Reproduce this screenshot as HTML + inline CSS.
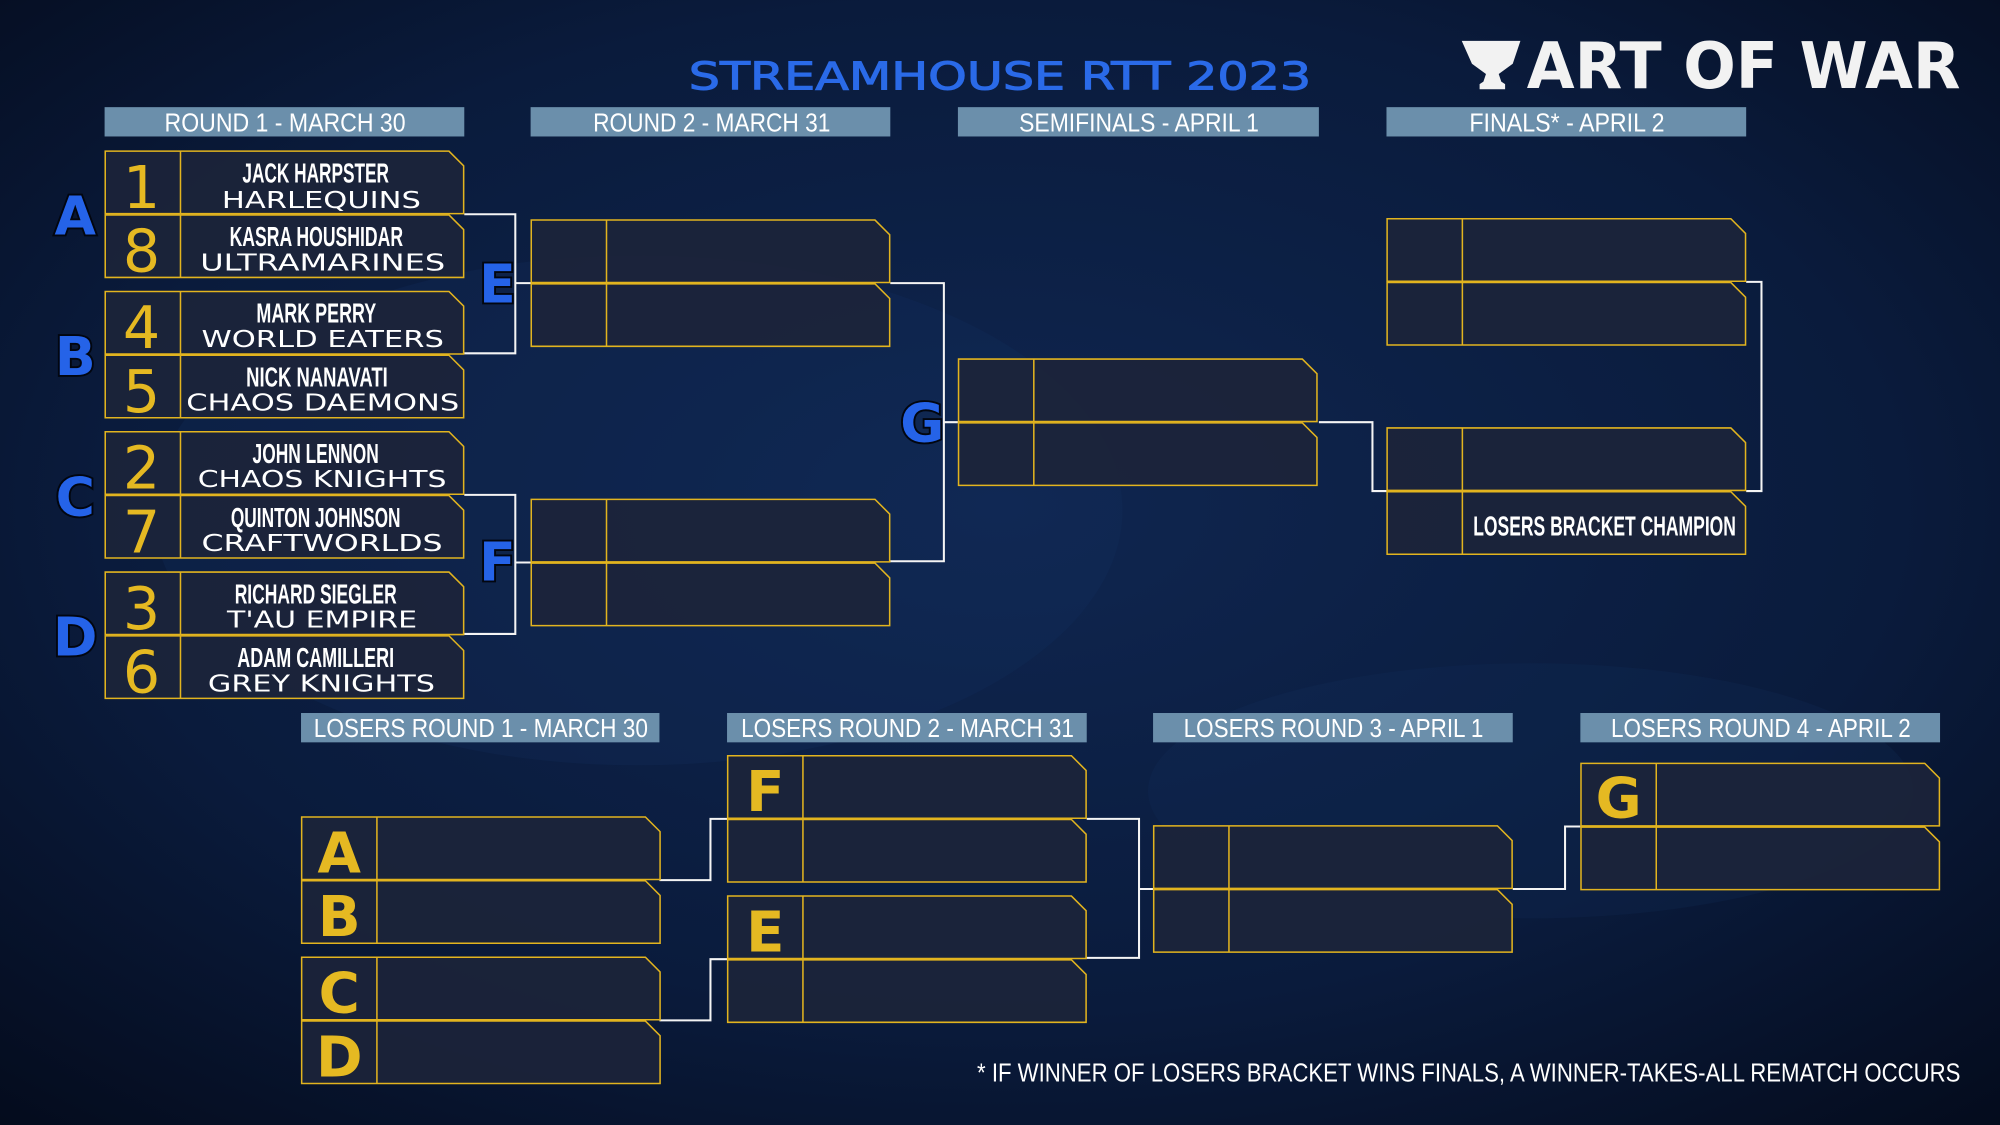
<!DOCTYPE html>
<html><head><meta charset="utf-8"><style>
html,body{margin:0;padding:0;width:2000px;height:1125px;overflow:hidden;background:#06122a}
svg{display:block}
.h{font-family:"Liberation Sans Narrow","Liberation Sans",sans-serif;fill:#fff;font-size:20px}
.nm{font-family:"Liberation Sans Narrow","Liberation Sans",sans-serif;font-weight:bold;fill:#fff;font-size:22px}
.fc{font-family:"DejaVu Sans","Liberation Sans",sans-serif;fill:#fff;font-size:18px}
.num{font-family:"DejaVu Sans","Liberation Sans",sans-serif;fill:#e5b922;font-size:46px}
.bl{font-family:"DejaVu Sans","Liberation Sans",sans-serif;font-weight:bold;fill:#2563e8;stroke:#02060f;stroke-width:3;paint-order:stroke;font-size:42px}
.yl{font-family:"DejaVu Sans","Liberation Sans",sans-serif;font-weight:bold;fill:#e5b922;font-size:44px}
</style></head><body>
<svg width="2000" height="1125" viewBox="0 0 1568 882" xmlns="http://www.w3.org/2000/svg">
<defs>
<radialGradient id="bg1" cx="0.5" cy="0.45" r="0.75"><stop offset="0" stop-color="#0f2650"/><stop offset="0.6" stop-color="#0a1b3c"/><stop offset="1" stop-color="#040b1c"/></radialGradient>
<symbol id="slot" viewBox="0 0 282 50" width="282" height="50" overflow="visible">
<path d="M0.5,0.5 H270 L281.5,12 V49.5 H0.5 Z" fill="#1c2439" fill-opacity="0.92" stroke="#e2b41f" stroke-width="1.2"/>
<line x1="59.5" y1="0.5" x2="59.5" y2="49.5" stroke="#e2b41f" stroke-width="1.2"/>
</symbol>
</defs>
<rect width="1568" height="882" fill="url(#bg1)"/>
<ellipse cx="500" cy="400" rx="380" ry="200" fill="#133060" opacity="0.25"/>
<ellipse cx="1200" cy="620" rx="300" ry="100" fill="#133060" opacity="0.2"/>

<!-- title & logo -->
<text x="540" y="70" textLength="488" lengthAdjust="spacingAndGlyphs" font-family="DejaVu Sans, sans-serif" font-size="30" fill="#2a6ae8" stroke="#2a6ae8" stroke-width="0.8">STREAMHOUSE RTT 2023</text>
<path d="M1146,32 H1192 L1186,50 L1175,58 L1177,64 L1180,66 V70 H1160 V66 L1163,64 L1165,58 L1154,50 Z" fill="#f2f2f2"/>
<text x="1197" y="69" textLength="340" lengthAdjust="spacingAndGlyphs" font-family="DejaVu Sans, sans-serif" font-weight="bold" font-size="50" fill="#f2f2f2">ART OF WAR</text>

<!-- headers -->
<g fill="#6b8fab">
<rect x="82" y="84" width="282" height="23"/><rect x="416" y="84" width="282" height="23"/>
<rect x="751" y="84" width="283" height="23"/><rect x="1087" y="84" width="282" height="23"/>
<rect x="236" y="559" width="281" height="23"/><rect x="570" y="559" width="282" height="23"/>
<rect x="904" y="559" width="282" height="23"/><rect x="1239" y="559" width="282" height="23"/>
</g>
<g class="h">
<text x="129" y="103" textLength="189" lengthAdjust="spacingAndGlyphs">ROUND 1 - MARCH 30</text>
<text x="465" y="103" textLength="186" lengthAdjust="spacingAndGlyphs">ROUND 2 - MARCH 31</text>
<text x="799" y="103" textLength="188" lengthAdjust="spacingAndGlyphs">SEMIFINALS - APRIL 1</text>
<text x="1152" y="103" textLength="153" lengthAdjust="spacingAndGlyphs">FINALS* - APRIL 2</text>
<text x="246" y="578" textLength="262" lengthAdjust="spacingAndGlyphs">LOSERS ROUND 1 - MARCH 30</text>
<text x="581" y="578" textLength="261" lengthAdjust="spacingAndGlyphs">LOSERS ROUND 2 - MARCH 31</text>
<text x="928" y="578" textLength="235" lengthAdjust="spacingAndGlyphs">LOSERS ROUND 3 - APRIL 1</text>
<text x="1263" y="578" textLength="235" lengthAdjust="spacingAndGlyphs">LOSERS ROUND 4 - APRIL 2</text>
</g>

<!-- connectors -->
<g fill="none" stroke="#f4f4f4" stroke-width="1.6">
<path d="M364,168 H404 V277 H364 M404,222 H416"/>
<path d="M364,388 H404 V497 H364 M404,441 H416"/>
<path d="M698,222 H740 V440 H698 M740,331 H751"/>
<path d="M1034,331 H1076 V385 H1087"/>
<path d="M1369,221 H1381 V385 H1369"/>
<path d="M517,690 H557 V642 H570"/>
<path d="M517,800 H557 V752 H570"/>
<path d="M852,642 H893 V751 H852 M893,697 H904"/>
<path d="M1186,697 H1227 V648 H1239"/>
</g>

<!-- slots -->
<use href="#slot" x="82" y="118"/><use href="#slot" x="82" y="168"/>
<use href="#slot" x="82" y="228"/><use href="#slot" x="82" y="278"/>
<use href="#slot" x="82" y="338"/><use href="#slot" x="82" y="388"/>
<use href="#slot" x="82" y="448"/><use href="#slot" x="82" y="498"/>
<use href="#slot" x="416" y="172"/><use href="#slot" x="416" y="222"/>
<use href="#slot" x="416" y="391"/><use href="#slot" x="416" y="441"/>
<use href="#slot" x="751" y="281"/><use href="#slot" x="751" y="331"/>
<use href="#slot" x="1087" y="171"/><use href="#slot" x="1087" y="221"/>
<use href="#slot" x="1087" y="335"/><use href="#slot" x="1087" y="385"/>
<use href="#slot" x="236" y="640"/><use href="#slot" x="236" y="690"/>
<use href="#slot" x="236" y="750"/><use href="#slot" x="236" y="800"/>
<use href="#slot" x="570" y="592"/><use href="#slot" x="570" y="642"/>
<use href="#slot" x="570" y="702"/><use href="#slot" x="570" y="752"/>
<use href="#slot" x="904" y="647"/><use href="#slot" x="904" y="697"/>
<use href="#slot" x="1239" y="598"/><use href="#slot" x="1239" y="648"/>

<!-- round 1 text -->
<g class="num" text-anchor="middle">
<text x="111" y="163">1</text><text x="111" y="213">8</text>
<text x="111" y="273">4</text><text x="111" y="323">5</text>
<text x="111" y="383">2</text><text x="111" y="433">7</text>
<text x="111" y="493">3</text><text x="111" y="543">6</text>
</g>
<g class="nm">
<text x="190" y="143" textLength="115" lengthAdjust="spacingAndGlyphs">JACK HARPSTER</text>
<text x="180" y="193" textLength="136" lengthAdjust="spacingAndGlyphs">KASRA HOUSHIDAR</text>
<text x="201" y="253" textLength="94" lengthAdjust="spacingAndGlyphs">MARK PERRY</text>
<text x="193" y="303" textLength="111" lengthAdjust="spacingAndGlyphs">NICK NANAVATI</text>
<text x="198" y="363" textLength="99" lengthAdjust="spacingAndGlyphs">JOHN LENNON</text>
<text x="181" y="413" textLength="133" lengthAdjust="spacingAndGlyphs">QUINTON JOHNSON</text>
<text x="184" y="473" textLength="127" lengthAdjust="spacingAndGlyphs">RICHARD SIEGLER</text>
<text x="186" y="523" textLength="123" lengthAdjust="spacingAndGlyphs">ADAM CAMILLERI</text>
</g>
<g class="fc">
<text x="174" y="163" textLength="156" lengthAdjust="spacingAndGlyphs">HARLEQUINS</text>
<text x="157" y="212" textLength="192" lengthAdjust="spacingAndGlyphs">ULTRAMARINES</text>
<text x="158" y="272" textLength="190" lengthAdjust="spacingAndGlyphs">WORLD EATERS</text>
<text x="146" y="322" textLength="214" lengthAdjust="spacingAndGlyphs">CHAOS DAEMONS</text>
<text x="155" y="382" textLength="195" lengthAdjust="spacingAndGlyphs">CHAOS KNIGHTS</text>
<text x="158" y="432" textLength="189" lengthAdjust="spacingAndGlyphs">CRAFTWORLDS</text>
<text x="178" y="492" textLength="149" lengthAdjust="spacingAndGlyphs">T'AU EMPIRE</text>
<text x="163" y="542" textLength="178" lengthAdjust="spacingAndGlyphs">GREY KNIGHTS</text>
</g>

<!-- blue labels -->
<g class="bl" text-anchor="middle">
<text x="59" y="184">A</text><text x="59" y="294">B</text>
<text x="59" y="404">C</text><text x="59" y="514">D</text>
<text x="390" y="237">E</text><text x="390" y="455">F</text>
<text x="723" y="346">G</text>
</g>

<!-- yellow losers letters -->
<g class="yl" text-anchor="middle">
<text x="266" y="684">A</text><text x="266" y="734">B</text>
<text x="266" y="794">C</text><text x="266" y="844">D</text>
<text x="600" y="636">F</text><text x="600" y="746">E</text>
<text x="1269" y="641">G</text>
</g>

<text x="1155" y="420" textLength="206" lengthAdjust="spacingAndGlyphs" class="nm">LOSERS BRACKET CHAMPION</text>

<text x="766" y="848" textLength="771" lengthAdjust="spacingAndGlyphs" class="h" font-size="21">* IF WINNER OF LOSERS BRACKET WINS FINALS, A WINNER-TAKES-ALL REMATCH OCCURS</text>
</svg>
</body></html>
